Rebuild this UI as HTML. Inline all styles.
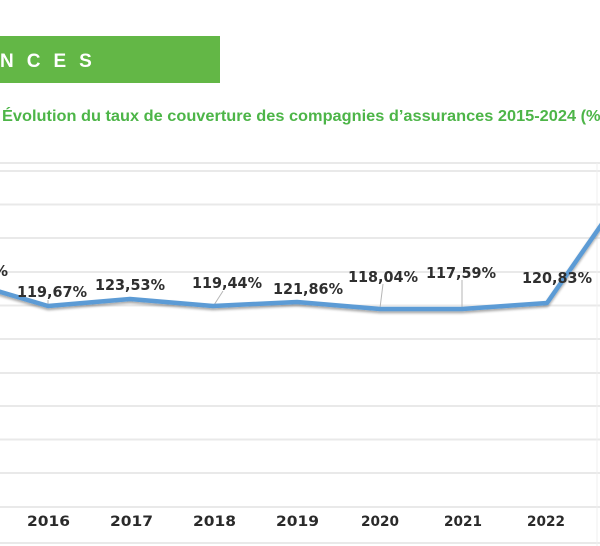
<!DOCTYPE html>
<html>
<head>
<meta charset="utf-8">
<style>
  html,body{margin:0;padding:0;background:#fff;}
  body{width:600px;height:546px;overflow:hidden;position:relative;}
  svg{position:absolute;left:0;top:0;}
</style>
</head>
<body>
<svg width="600" height="546" viewBox="0 0 600 546" xmlns="http://www.w3.org/2000/svg">
  <defs>
    <filter id="sh" x="-10%" y="-50%" width="120%" height="200%">
      <feGaussianBlur in="SourceAlpha" stdDeviation="1.2"/>
      <feOffset dx="0" dy="2" result="o"/>
      <feComponentTransfer><feFuncA type="linear" slope="0.35"/></feComponentTransfer>
      <feMerge><feMergeNode/><feMergeNode in="SourceGraphic"/></feMerge>
    </filter>
  </defs>
  <rect x="0" y="0" width="600" height="546" fill="#ffffff"/>

  <!-- green banner -->
  <rect x="0" y="36" width="220" height="47" fill="#63b746"/>
  <text x="0" y="67" font-family="Liberation Sans, sans-serif" font-weight="bold" font-size="19" fill="#ffffff" letter-spacing="13">NCES</text>

  <!-- subtitle -->
  <text x="2" y="121" font-family="Liberation Sans, sans-serif" font-weight="bold" font-size="16" fill="#4db548" textLength="604" lengthAdjust="spacingAndGlyphs">Évolution du taux de couverture des compagnies d’assurances 2015-2024 (%)</text>

  <!-- grid -->
  <g stroke="#e9e9e9" stroke-width="2">
    <line x1="0" y1="163" x2="600" y2="163"/>
    <line x1="0" y1="171" x2="600" y2="171"/>
    <line x1="0" y1="204.5" x2="600" y2="204.5"/>
    <line x1="0" y1="238" x2="600" y2="238"/>
    <line x1="0" y1="272" x2="600" y2="272"/>
    <line x1="0" y1="305.5" x2="600" y2="305.5"/>
    <line x1="0" y1="339" x2="600" y2="339"/>
    <line x1="0" y1="373" x2="600" y2="373"/>
    <line x1="0" y1="406" x2="600" y2="406"/>
    <line x1="0" y1="439.5" x2="600" y2="439.5"/>
    <line x1="0" y1="473" x2="600" y2="473"/>
    <line x1="0" y1="507" x2="600" y2="507"/>
    <line x1="0" y1="543" x2="600" y2="543"/>
  </g>
  <line x1="597" y1="163" x2="597" y2="546" stroke="#efefef" stroke-width="1"/>

  <!-- leader lines -->
  <g stroke="#b5b5b5" stroke-width="1">
    <line x1="48" y1="300" x2="48" y2="306"/>
    <line x1="223" y1="291" x2="214" y2="305"/>
    <line x1="383" y1="284" x2="380" y2="308"/>
    <line x1="462" y1="280" x2="462" y2="308"/>
  </g>

  <!-- series -->
  <polyline filter="url(#sh)" fill="none" stroke="#5b9bd5" stroke-width="4.5" stroke-linejoin="round"
    points="-40,280 48,306 130,299 213,306 297,302 380,309 462,309 547,303 620,198"/>

  <!-- data labels -->
  <g font-family="DejaVu Sans, sans-serif" font-weight="bold" font-size="15" fill="#2f2f2f">
    <text x="-7" y="276">%</text>
    <text x="17" y="297" textLength="70" lengthAdjust="spacingAndGlyphs">119,67%</text>
    <text x="95" y="290" textLength="70" lengthAdjust="spacingAndGlyphs">123,53%</text>
    <text x="192" y="288" textLength="70" lengthAdjust="spacingAndGlyphs">119,44%</text>
    <text x="273" y="294" textLength="70" lengthAdjust="spacingAndGlyphs">121,86%</text>
    <text x="348" y="282" textLength="70" lengthAdjust="spacingAndGlyphs">118,04%</text>
    <text x="426" y="278" textLength="70" lengthAdjust="spacingAndGlyphs">117,59%</text>
    <text x="522" y="283" textLength="70" lengthAdjust="spacingAndGlyphs">120,83%</text>
  </g>

  <!-- x axis labels -->
  <g font-family="DejaVu Sans, sans-serif" font-weight="bold" font-size="14" fill="#2a2a2a">
    <text x="27" y="526" textLength="43" lengthAdjust="spacingAndGlyphs">2016</text>
    <text x="110" y="526" textLength="43" lengthAdjust="spacingAndGlyphs">2017</text>
    <text x="193" y="526" textLength="43" lengthAdjust="spacingAndGlyphs">2018</text>
    <text x="276" y="526" textLength="43" lengthAdjust="spacingAndGlyphs">2019</text>
    <text x="361" y="526" textLength="38" lengthAdjust="spacingAndGlyphs">2020</text>
    <text x="444" y="526" textLength="38" lengthAdjust="spacingAndGlyphs">2021</text>
    <text x="527" y="526" textLength="38" lengthAdjust="spacingAndGlyphs">2022</text>
  </g>
</svg>
</body>
</html>
